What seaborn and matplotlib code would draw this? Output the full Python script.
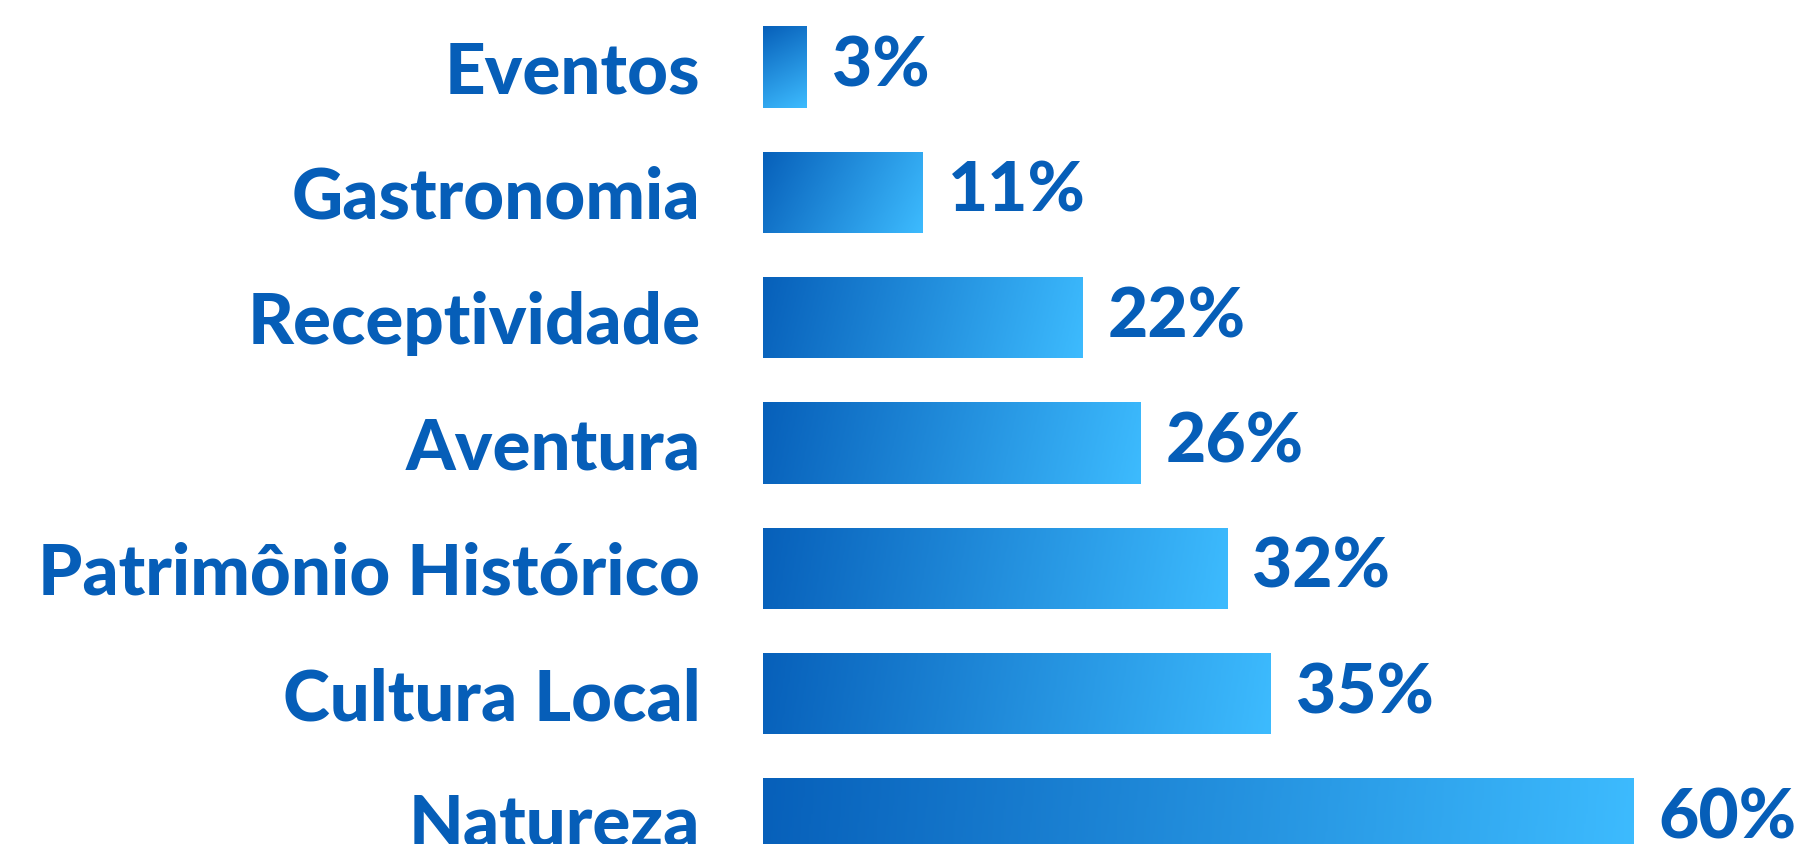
import numpy as np
import pandas as pd
import matplotlib
matplotlib.use("Agg")
import matplotlib.pyplot as plt
import seaborn as sns
from matplotlib.colors import LinearSegmentedColormap

# data
categorias = ["Eventos", "Gastronomia", "Receptividade", "Aventura",
              "Patrimônio Histórico", "Cultura Local", "Natureza"]
percentuais = [3, 11, 22, 26, 32, 35, 60]

df = pd.DataFrame({"categoria": categorias, "pct": percentuais})

texto_cor = "#065EB8"
grad = LinearSegmentedColormap.from_list("azul", ["#0760BA", "#3DBBFE"])

sns.set_theme(style="white")
plt.rcParams["font.family"] = ["Lato", "DejaVu Sans"]

fig = plt.figure(figsize=(18.09, 8.44), dpi=100)
ax = fig.add_axes([763 / 1809, 0, 1 - 763 / 1809, 1])

sns.barplot(data=df, x="pct", y="categoria", orient="h", ax=ax,
            color="#3DBBFE", width=0.65, saturation=1)

ax.set_xlim(0, 72.1)
ax.set_ylim(6.2, -0.535)

# gradient fill on each bar
for p in ax.patches:
    x0, y0 = p.get_x(), p.get_y()
    w, h = p.get_width(), p.get_height()
    # pixel size of bar for a diagonal gradient
    (px0, py0), (px1, py1) = ax.transData.transform([(x0, y0), (x0 + w, y0 + h)])
    pw, ph = abs(px1 - px0), abs(py1 - py0)
    xx, yy = np.meshgrid(np.linspace(0, pw, 200), np.linspace(0, ph, 50))
    t = (xx * pw + yy * ph) / (pw ** 2 + ph ** 2)
    im = ax.imshow(t, cmap=grad, vmin=0, vmax=1, aspect="auto",
                   extent=(x0, x0 + w, y0 + h, y0), origin="upper",
                   interpolation="bilinear", zorder=3)
    im.set_clip_path(p)
    p.set_alpha(0)

ax.set_xlim(0, 72.1)
ax.set_ylim(6.2, -0.535)

for c in ax.containers:
    ax.bar_label(c, fmt="%d%%", padding=18, fontsize=50, fontweight=900,
                 color=texto_cor, zorder=4)

ax.set_xlabel("")
ax.set_ylabel("")
ax.set_xticks([])
ax.tick_params(axis="y", length=0, pad=45)
for lbl in ax.get_yticklabels():
    lbl.set_fontsize(51)
    lbl.set_fontweight(900)
    lbl.set_color(texto_cor)
sns.despine(ax=ax, left=True, bottom=True)

fig.savefig("out.png", dpi=100)
